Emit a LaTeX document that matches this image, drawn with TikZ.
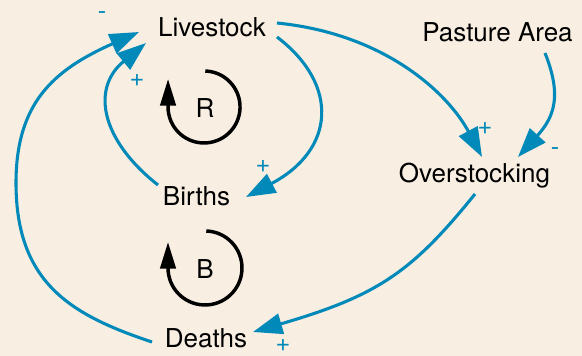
\documentclass[tikz,border=0pt]{standalone}
\usepackage{fontspec}
\setmainfont{TeX Gyre Heros}
\usetikzlibrary{arrows.meta,calc}

\definecolor{paper}{RGB}{248,238,226}
\definecolor{linkblue}{RGB}{0,137,185}

\tikzset{every picture/.style={line width=0.75pt}}
\tikzset{
  var/.style={anchor=base,inner sep=0pt,font=\fontsize{19.5}{23}\selectfont,text=black},
  loopname/.style={inner sep=0pt,font=\fontsize{19.5}{23}\selectfont,text=black},
  sign/.style={inner sep=0pt,text=linkblue,font=\fontsize{19}{22}\selectfont},
  link/.style={draw=linkblue,line width=2.3pt,-{Triangle[length=22pt,width=15.5pt]}},
  loopline/.style={draw=black,line width=2.6pt,-{Triangle[length=20pt,width=11.5pt]}},
}

\begin{document}
\begin{tikzpicture}[x=0.75pt,y=0.75pt,yscale=-1,xscale=1]
%Background
\fill[paper] (0,0) rectangle (582,356);
\useasboundingbox (0,0) rectangle (582,356);

% Text Node
\node[var] (livestock) at (212,37) {Livestock};
% Text Node
\node[var] (pasture) at (497.5,42) {Pasture Area};
% Text Node
\node[var] (overstocking) at (474.5,183) {Overstocking};
% Text Node
\node[var] (births) at (196.5,206) {Births};
% Text Node
\node[var] (deaths) at (206,347) {Deaths};
% Text Node
\node[loopname] (rloop) at (205,108) {R};
% Text Node
\node[loopname] (bloop) at (205,269) {B};

%Curve Lines
\draw[link] ($(livestock.base)+(65,0)$) .. controls +(63,48) and +(89,-47) .. ($(births.base)+(49.5,-9)$);
%Curve Lines
\draw[link] ($(births.base)+(-38.5,-21)$) .. controls +(-56,-44) and +(-56,46) .. ($(livestock.base)+(-66,6)$);
%Curve Lines
\coordinate (farleft) at (16,183);
\draw[link] ($(deaths.base)+(-54,-5)$) .. controls +(-81,-27) and +(0,100) .. (farleft) .. controls +(0,-80) and +(-85.5,38) .. ($(livestock.base)+(-73,-5)$);
%Curve Lines
\draw[link] ($(livestock.base)+(65,-14)$) .. controls +(110,11) and +(-33,-62) .. ($(overstocking.base)+(7.5,-26)$);
%Curve Lines
\draw[link] ($(pasture.base)+(47.5,11)$) .. controls +(16.7,41.9) and +(36.9,-40.7) .. ($(overstocking.base)+(43.5,-26)$);
%Curve Lines
\draw[link] ($(overstocking.base)+(0.5,11)$) .. controls +(-63,78) and +(124.8,-36.4) .. ($(deaths.base)+(47,-15)$);

%Loop arcs
\draw[loopline] (205.3,71) arc[start angle=-88,end angle=180,radius=36] -- ++(0,-28);
\draw[loopline] (206.3,231) arc[start angle=-88,end angle=180,radius=37] -- ++(0,-26);

% Polarity signs
\node[sign] (s1) at (102,16) {-};
\node[sign] (s2) at (137,80) {+};
\node[sign] (s3) at (263,166) {+};
\node[sign] (s4) at (485,128) {+};
\node[sign] (s5) at (555,152) {-};
\node[sign] (s6) at (283,345) {+};

\end{tikzpicture}
\end{document}
